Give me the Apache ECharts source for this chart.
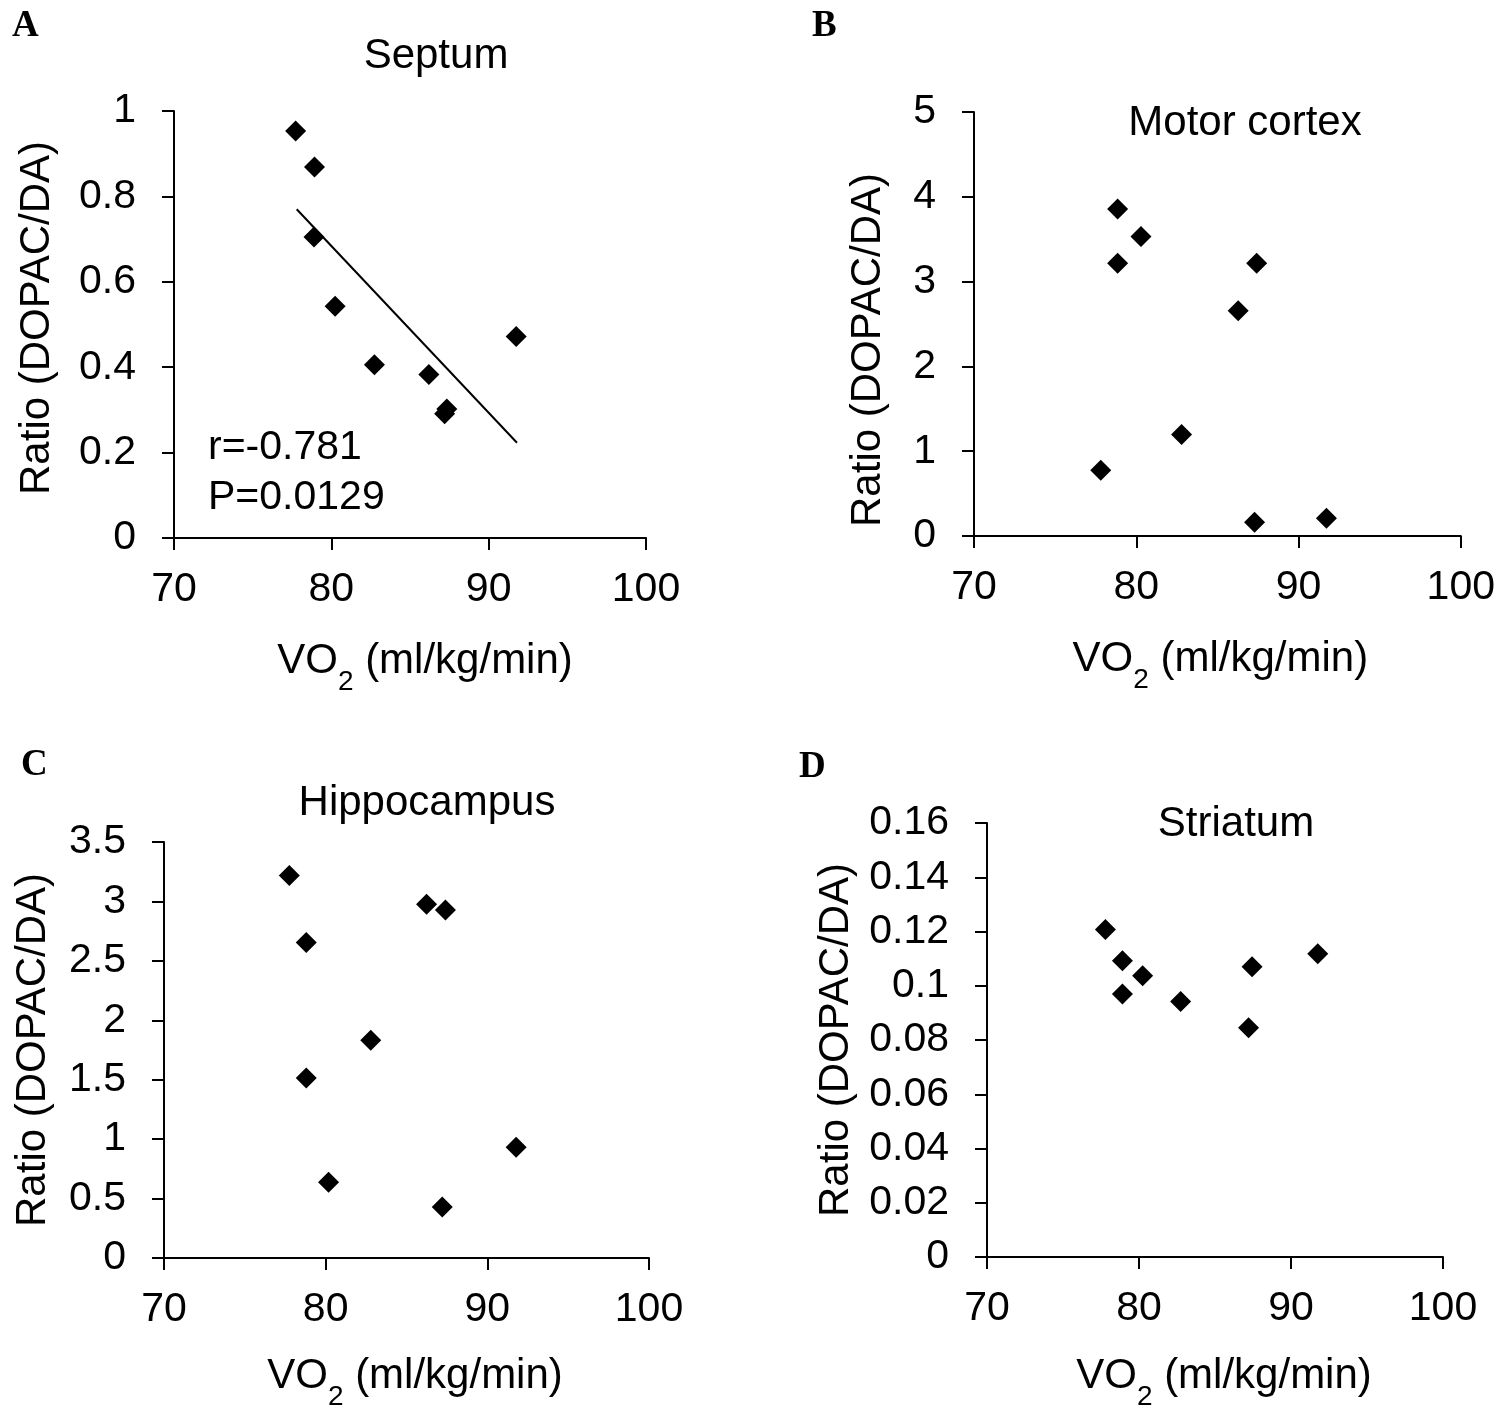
<!DOCTYPE html>
<html>
<head>
<meta charset="utf-8">
<script src="https://cdn.jsdelivr.net/npm/echarts@6/dist/echarts.min.js"></script>
<style>
html,body{margin:0;padding:0;background:#fff;}
#chart{width:1498px;height:1412px;}
</style>
</head>
<body>
<div id="chart"></div>
<script>
// ---- data ----
const panelTitles = ['Septum', 'Motor cortex', 'Hippocampus', 'Striatum'];
const panelLetters = ['A', 'B', 'C', 'D'];

const septumX = [77.73, 78.93, 78.9, 80.24, 82.74, 86.2, 87.34, 87.2, 91.75];
const septumY = [0.953, 0.869, 0.705, 0.543, 0.406, 0.383, 0.302, 0.291, 0.472];
const septumTrendX = [77.8, 91.8];
const septumTrendY = [0.770, 0.223];
const septumStats = ['r=-0.781', 'P=0.0129'];

const motorX = [78.85, 80.29, 78.85, 87.42, 86.28, 82.79, 77.81, 87.29, 91.72];
const motorY = [3.856, 3.531, 3.216, 3.216, 2.655, 1.196, 0.776, 0.163, 0.21];

const hippoX = [77.75, 86.24, 87.41, 78.8, 82.79, 78.8, 80.18, 91.78, 87.21];
const hippoY = [3.219, 2.976, 2.928, 2.654, 1.833, 1.514, 0.638, 0.932, 0.43];

const striatumX = [77.79, 78.91, 80.24, 78.91, 82.74, 87.44, 87.21, 91.76];
const striatumY = [0.1207, 0.1092, 0.1037, 0.0970, 0.0942, 0.1070, 0.0845, 0.1118];

const xMin = 70, xMax = 100, xStep = 10;
const yMaxes = [1, 5, 3.5, 0.16];
const ySteps = [0.2, 1, 0.5, 0.02];
const xAxisName = ['VO', '2', ' (ml/kg/min)'];
const yAxisName = 'Ratio (DOPAC/DA)';

// ---- layout ----
const FONT = '"Liberation Sans", Arial, sans-serif';
const grids = [
  {left: 174, top: 111, width: 472, height: 427},
  {left: 974, top: 112, width: 492, height: 424},
  {left: 164, top: 842, width: 485, height: 432},
  {left: 987, top: 823, width: 456, height: 440}
];
const titlePos = [[436, 56], [1245, 123], [427, 803], [1236, 824]];
const letterPos = [[12, 26], [812, 26], [21, 765], [799, 767]];
const xNameGap = [102, 102, 97, 98];
const xNamePad = [[0, 0, 0, 30], [0, 0, 0, 6], [0, 0, 0, 17], [0, 0, 0, 18]];
const yNameGap = [116, 85, 110, 130];
const yNamePad = [[0, 0, 0, 13], [0, 52, 0, 0], [0, 0, 0, 0], [0, 0, 0, 0]];

const pairs = (xs, ys) => xs.map((x, i) => [x, ys[i]]);
const seriesData = [
  pairs(septumX, septumY),
  pairs(motorX, motorY),
  pairs(hippoX, hippoY),
  pairs(striatumX, striatumY)
];

const axisLineStyle = {show: true, lineStyle: {color: '#000', width: 2}};
const tickStyle = {show: true, length: 12, lineStyle: {color: '#000', width: 2}};

const xAxes = grids.map((g, i) => ({
  type: 'value', gridIndex: i, min: xMin, max: xMax, interval: xStep,
  axisLine: axisLineStyle, axisTick: tickStyle, splitLine: {show: false},
  axisLabel: {color: '#000', fontSize: 41, fontFamily: FONT, margin: 31},
  name: '{a|' + xAxisName[0] + '}{s|' + xAxisName[1] + '}{a|' + xAxisName[2] + '}',
  nameLocation: 'middle', nameGap: xNameGap[i],
  nameTextStyle: {
    padding: xNamePad[i],
    rich: {
      a: {fontSize: 42, fontFamily: FONT, color: '#000', lineHeight: 56, verticalAlign: 'top'},
      s: {fontSize: 28, fontFamily: FONT, color: '#000', lineHeight: 28, verticalAlign: 'bottom'}
    }
  }
}));

const yAxes = grids.map((g, i) => ({
  type: 'value', gridIndex: i, min: 0, max: yMaxes[i], interval: ySteps[i],
  axisLine: axisLineStyle, axisTick: tickStyle, splitLine: {show: false},
  axisLabel: {color: '#000', fontSize: 41, fontFamily: FONT, margin: 38},
  name: yAxisName, nameLocation: 'middle',
  nameGap: yNameGap[i],
  nameTextStyle: {color: '#000', fontSize: 42, fontFamily: FONT, padding: yNamePad[i]}
}));

const series = seriesData.map((d, i) => ({
  type: 'scatter', xAxisIndex: i, yAxisIndex: i, data: d,
  symbol: 'diamond', symbolSize: 21,
  itemStyle: {color: '#000', opacity: 1}, silent: true
}));
series.push({
  type: 'line', xAxisIndex: 0, yAxisIndex: 0,
  data: pairs(septumTrendX, septumTrendY),
  showSymbol: false, symbol: 'none',
  lineStyle: {color: '#000', width: 2, opacity: 1}, silent: true
});

const textEl = (txt, x, y, font, align) => ({
  type: 'text', x: x, y: y, silent: true,
  style: {text: txt, font: font, fill: '#000',
    align: align, verticalAlign: 'middle',
    textAlign: align, textVerticalAlign: 'middle'}
});

const graphics = [];
panelTitles.forEach((t, i) => graphics.push(textEl(t, titlePos[i][0], titlePos[i][1], '42px ' + FONT, 'center')));
panelLetters.forEach((t, i) => graphics.push(textEl(t, letterPos[i][0], letterPos[i][1], 'bold 37px "Liberation Serif", "Times New Roman", serif', 'left')));
graphics.push(textEl(septumStats[0], 208, 448, '41px ' + FONT, 'left'));
graphics.push(textEl(septumStats[1], 208, 498, '41px ' + FONT, 'left'));

const chart = echarts.init(document.getElementById('chart'), null, {renderer: 'canvas'});
chart.setOption({
  animation: false,
  backgroundColor: '#fff',
  grid: grids.map(g => Object.assign({containLabel: false}, g)),
  xAxis: xAxes,
  yAxis: yAxes,
  series: series,
  graphic: graphics
});
</script>
</body>
</html>
